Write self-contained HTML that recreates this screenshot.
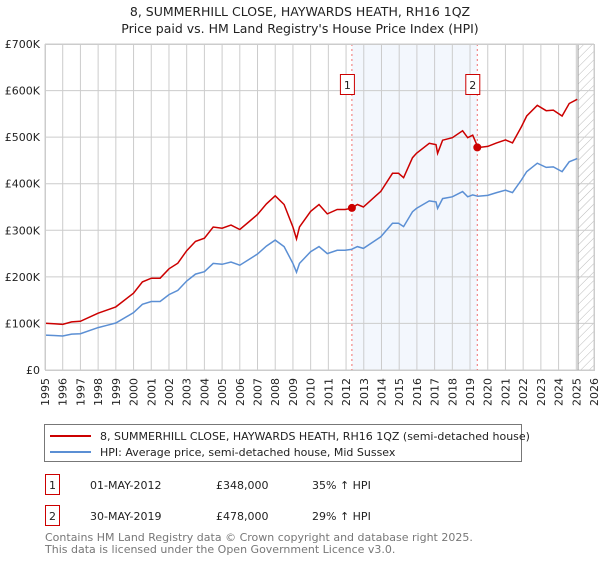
<!DOCTYPE html>
<html><head><meta charset="utf-8"><style>
body{margin:0;background:#fff;width:600px;height:560px;overflow:hidden;font-family:"DejaVu Sans","Liberation Sans",sans-serif}
svg text{font-family:"DejaVu Sans","Liberation Sans",sans-serif}
</style></head><body>
<svg id="c" width="600" height="560" xmlns="http://www.w3.org/2000/svg">
<defs><pattern id="hatch" width="6" height="6" patternUnits="userSpaceOnUse" patternTransform="rotate(45)"><line x1="0" y1="0" x2="0" y2="6" stroke="#bbb" stroke-width="1"/></pattern></defs>
<text x="300" y="16" text-anchor="middle" font-size="12.5" fill="#222">8, SUMMERHILL CLOSE, HAYWARDS HEATH, RH16 1QZ</text>
<text x="300" y="33" text-anchor="middle" font-size="12.5" fill="#222">Price paid vs. HM Land Registry's House Price Index (HPI)</text>
<g id="plot"></g>
<g>
<rect x="44.5" y="424.5" width="477" height="37" fill="#fff" stroke="#777"/>
<line x1="50" y1="436" x2="91" y2="436" stroke="#cc0000" stroke-width="2"/>
<text x="100" y="440" font-size="11" fill="#222">8, SUMMERHILL CLOSE, HAYWARDS HEATH, RH16 1QZ (semi-detached house)</text>
<line x1="50" y1="452" x2="91" y2="452" stroke="#5b8fd4" stroke-width="2"/>
<text x="100" y="456" font-size="11" fill="#222">HPI: Average price, semi-detached house, Mid Sussex</text>
</g>
<g font-size="11" fill="#222">
<rect x="45.5" y="474.5" width="14" height="20" fill="#fff" stroke="#cc0000"/><text x="52.5" y="489" text-anchor="middle">1</text>
<text x="90" y="489">01-MAY-2012</text><text x="216" y="489">£348,000</text><text x="312" y="489">35% ↑ HPI</text>
<rect x="45.5" y="505.5" width="14" height="20" fill="#fff" stroke="#cc0000"/><text x="52.5" y="520" text-anchor="middle">2</text>
<text x="90" y="520">30-MAY-2019</text><text x="216" y="520">£478,000</text><text x="312" y="520">29% ↑ HPI</text>
</g>
<text x="45" y="541" font-size="11" fill="#777">Contains HM Land Registry data © Crown copyright and database right 2025.</text>
<text x="45" y="553" font-size="11" fill="#777">This data is licensed under the Open Government Licence v3.0.</text>
</svg>
<script>
const hpiYears=[1995,1995.5,1996,1996.5,1997,1998,1998.5,1999,2000,2000.5,2001,2001.5,2002,2002.5,2003,2003.5,2004,2004.5,2005,2005.5,2006,2006.5,2007,2007.5,2008,2008.5,2009,2009.2,2009.37,2010,2010.47,2010.94,2011.5,2011.94,2012.3,2012.64,2012.98,2013.68,2013.96,2014.62,2014.96,2015.25,2015.75,2015.98,2016.7,2017.08,2017.17,2017.45,2018,2018.58,2018.87,2019.15,2019.45,2020,2020.5,2021,2021.4,2021.9,2022.2,2022.8,2023.3,2023.7,2024.2,2024.6,2025.05];
const hpiValues=[75,74,73,77,78,91,96,101,123,141,147,147,162,171,191,206,211,229,227,232,225,237,249,266,279,265,229,210,229,254,265,250,257,257,259,265,261,279,286,315,315,308,340,347,363,361,347,368,372,383,372,376,373,375,381,386,381,408,426,444,435,436,426,447,454];
const saleYears=[2012.33,2019.41];
const salePrices=[348,478];
const saleLabels=["1","2"];
const yTicks=[0,100,200,300,400,500,600,700];
const yTickLabels=["£0","£100K","£200K","£300K","£400K","£500K","£600K","£700K"];
const xTicks=[1995,1996,1997,1998,1999,2000,2001,2002,2003,2004,2005,2006,2007,2008,2009,2010,2011,2012,2013,2014,2015,2016,2017,2018,2019,2020,2021,2022,2023,2024,2025,2026];
const X0=45,X1=594,Y0=370,Y1=44;
const sx=y=>X0+(y-1995)/(2026-1995)*(X1-X0);
const sy=v=>Y0-v/700*(Y0-Y1);
const NS="http://www.w3.org/2000/svg";
const g=document.getElementById('plot');
function mk(t,a,p){const e=document.createElementNS(NS,t);for(const k in a)e.setAttribute(k,a[k]);(p||g).appendChild(e);return e;}
function interp(y){for(let i=1;i<hpiYears.length;i++){if(y<=hpiYears[i]){const t=(y-hpiYears[i-1])/(hpiYears[i]-hpiYears[i-1]);return hpiValues[i-1]+t*(hpiValues[i]-hpiValues[i-1]);}}return hpiValues[hpiValues.length-1];}
// shaded region between sales
const sh=mk('rect',{x:sx(saleYears[0]),y:Y1,width:sx(saleYears[1])-sx(saleYears[0]),height:Y0-Y1,fill:'#eef3fc',opacity:0.7});


const ht=mk('rect',{x:sx(2025.1),y:Y1,width:X1-sx(2025.1),height:Y0-Y1,fill:'url(#hatch)'});


xTicks.forEach(t=>{
 const l=mk('line',{x1:sx(t),x2:sx(t),y1:Y1,y2:Y0,stroke:'#ccc','stroke-width':1});
 
 
 const tx=mk('text',{x:0,y:0,transform:`translate(${sx(t)+4},378) rotate(-90)`,'text-anchor':'end','font-size':11,fill:'#222'});
 
 
 tx.textContent=t;
});
yTicks.forEach((t,i)=>{
 const l=mk('line',{x1:X0,x2:X1,y1:sy(t),y2:sy(t),stroke:'#ccc','stroke-width':1});
 
 
 const tx=mk('text',{x:40,y:sy(t)+4,'text-anchor':'end','font-size':11,fill:'#222'});
 
 
 tx.textContent=yTickLabels[i];
});
const vl=mk('line',{x1:sx(2025.1),x2:sx(2025.1),y1:Y1,y2:Y0,stroke:'#999','stroke-width':1});


saleYears.forEach((y,i)=>{
 const l=mk('line',{x1:sx(y),x2:sx(y),y1:Y1,y2:Y0,stroke:'#f07070','stroke-width':1,'stroke-dasharray':'2,3'});
 
 
 const b=mk('rect',{x:sx(y)-11.5,y:74.5,width:14,height:20,fill:'#fff',stroke:'#cc0000'});
 
 
 const t=mk('text',{x:sx(y)-4.5,y:89,'text-anchor':'middle','font-size':11,fill:'#222'});
 
 
 t.textContent=saleLabels[i];
});
// HPI line
let d='';hpiYears.forEach((y,i)=>{d+=(i?'L':'M')+sx(y).toFixed(1)+','+sy(hpiValues[i]).toFixed(1);});
const hp=mk('path',{d:d,fill:'none',stroke:'#5b8fd4','stroke-width':1.5});


// property line: HPI indexed to sale prices
const r1=salePrices[0]/interp(saleYears[0]),r2=salePrices[1]/interp(saleYears[1]);
let d2='';hpiYears.forEach((y,i)=>{const r=y<saleYears[1]?r1:r2;d2+=(i?'L':'M')+sx(y).toFixed(1)+','+sy(hpiValues[i]*r).toFixed(1);});
const pp=mk('path',{d:d2,fill:'none',stroke:'#cc0000','stroke-width':1.5});


saleYears.forEach((y,i)=>{
 const c=mk('circle',{cx:sx(y),cy:sy(salePrices[i]),r:4,fill:'#cc0000'});
 
 
});
const fr=mk('rect',{x:X0+0.5,y:Y1+0.5,width:X1-X0,height:Y0-Y1,fill:'none',stroke:'#ccc'});


</script>
</body></html>
